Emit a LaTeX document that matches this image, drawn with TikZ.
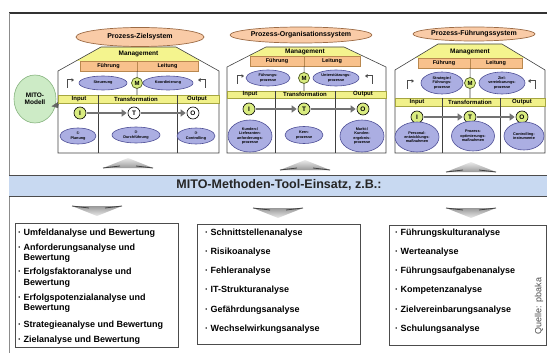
\documentclass[tikz,border=0pt]{standalone}
\usepackage{fontspec}
\setmainfont{Liberation Sans}
\newfontfamily\numfont{DejaVu Sans}
\usetikzlibrary{arrows.meta,positioning,shapes.geometric}

\definecolor{titlefill}{HTML}{F9CBA7}
\definecolor{titleline}{HTML}{9C6B45}
\definecolor{mgmtfill}{HTML}{F4F48E}
\definecolor{leadfill}{HTML}{F8C18C}
\definecolor{leadline}{HTML}{B9884F}
\definecolor{procfill}{HTML}{ABAEE2}
\definecolor{procline}{HTML}{4E4F96}
\definecolor{mfill}{HTML}{D9EC80}
\definecolor{mline}{HTML}{4E5A1E}
\definecolor{bandfill}{HTML}{F1F18A}
\definecolor{bandline}{HTML}{A6A640}
\definecolor{modellfill}{HTML}{CDEBC6}
\definecolor{modellline}{HTML}{86B37E}
\definecolor{bannerfill}{HTML}{C8D9F1}

\tikzset{
  titleell/.style={ellipse, draw=titleline, fill=titlefill, line width=0.7pt, inner sep=0pt,
    font=\fontsize{7}{8}\selectfont\bfseries},
  mgmt/.style={inner sep=0pt, font=\fontsize{6.5}{7}\selectfont\bfseries},
  leadbar/.style={rectangle, draw=leadline, fill=leadfill, minimum height=10, inner sep=0pt,
    font=\fontsize{5.5}{6}\selectfont\bfseries},
  procell/.style={ellipse, draw=procline, fill=procfill, line width=0.6pt, inner sep=0pt, align=center,
    font=\fontsize{3.8}{4.3}\selectfont\bfseries},
  mcirc/.style={circle, draw=mline, fill=mfill, line width=0.7pt, minimum size=11, inner sep=0pt,
    font=\fontsize{6}{6}\selectfont\bfseries},
  iocirc/.style={circle, draw=black, fill=white, line width=0.6pt, minimum size=12, inner sep=0pt,
    font=\fontsize{6.5}{6.5}\selectfont\bfseries},
  band/.style={rectangle, draw=bandline, fill=bandfill, inner sep=0pt, minimum height=8},
  bandlbl/.style={inner sep=0pt, font=\fontsize{6}{6}\selectfont\bfseries},
  wall/.style={draw=black!75, line width=0.6pt},
  flowarr/.style={draw=black!55, line width=2.5pt, -{Triangle[length=5pt,width=7pt]}, shorten <=1pt, shorten >=1pt},
  hookarr/.style={draw=black!70, line width=1pt, -{Triangle[length=2.5pt,width=3.5pt]}},
  modell/.style={ellipse, draw=modellline, fill=modellfill, line width=0.6pt, inner sep=0pt, align=center,
    minimum width=42, minimum height=48, font=\fontsize{6.5}{7.5}\selectfont\bfseries},
  listbox/.style={rectangle, draw=black!70, line width=0.6pt, inner sep=0pt},
  listitem/.style={anchor=west, inner sep=0pt, align=left, font=\fontsize{9}{10.5}\selectfont\bfseries}
}

\begin{document}
\begin{tikzpicture}[x=1pt,y=-1pt]
\useasboundingbox (0,0) rectangle (547,353);

% frame
\draw[black!80, line width=1.2pt] (9,13) -- (547,13);
\draw[black!45, line width=0.8pt] (9,13) -- (9,353);

% MITO model
\node[modell] (mito) at (35,99) {MITO-\\Modell};
\coordinate (mitoin) at (58,108);
\draw[black!60, line width=0.5pt, -{Triangle[length=5pt,width=9pt]}] (mito.-15) -- (mitoin);

% house 1: Prozess-Zielsystem
\fill[mgmtfill] (101,47) -- (176,47) -- (201,61) -- (76,61) -- cycle;
\draw[wall] (58,153) -- (58,71) -- (101,47) -- (176,47) -- (219,71) -- (219,153) -- cycle;
\node[titleell, minimum width=128, minimum height=19] (ziel) at (140,37) {Prozess-Zielsystem};
\node[mgmt] (mg1) at (138.5,54) {Management};
\node[leadbar, minimum width=57] (fue1) at (108.5,66) {Führung};
\node[leadbar, minimum width=61] (lei1) at (167.5,66) {Leitung};
\node[procell, minimum width=48, minimum height=14] (ste1) at (103,83) {Steuerung};
\node[mcirc] (m1) at (137,83) {M};
\node[procell, minimum width=50, minimum height=14] (koo1) at (168,83) {Koordinierung};
\node[band, minimum width=161] (band1) at (138.5,99) {};
\draw[wall] (fue1.south east) -- (m1) -- (m1 |- band1.north);
\draw[wall] (98,95) -- (98,153) (177,95) -- (177,153);
\node[bandlbl] (in1) at (79,99) {Input};
\node[bandlbl] (tr1) at (136,99) {Transformation};
\node[bandlbl] (out1) at (197,99) {Output};
\coordinate (hk1a) at (67,88); \coordinate (hk1b) at (74,80);
\coordinate (hk1c) at (205,88); \coordinate (hk1d) at (198,80);
\draw[hookarr] (hk1a) |- (hk1b);
\draw[hookarr] (hk1c) |- (hk1d);
\node[iocirc, fill=mfill] (i1) at (80,113) {I};
\node[iocirc] (t1) at (134,113) {T};
\node[iocirc] (o1) at (193,113) {O};
\draw[flowarr] (i1) -- (t1);
\draw[flowarr] (t1) -- (o1);
\node[procell, minimum width=36, minimum height=16] (pl1) at (78,136) {{\numfont ①}\\Planung};
\node[procell, minimum width=48, minimum height=16] (df1) at (136,135) {{\numfont ②}\\Durchführung};
\node[procell, minimum width=38, minimum height=16] (co1) at (196,136) {{\numfont ③}\\Controlling};

% house 2: Prozess-Organisationssystem
\fill[mgmtfill] (266,47) -- (344,47) -- (362,56) -- (248,56) -- cycle;
\draw[wall] (227,153) -- (227,67) -- (266,47) -- (344,47) -- (386,67) -- (386,153) -- cycle;
\node[titleell, minimum width=128, minimum height=16] (orga) at (301,35) {Prozess-Organisationssystem};
\node[mgmt] (mg2) at (305,51.5) {Management};
\node[leadbar, minimum width=54] (fue2) at (277,61) {Führung};
\node[leadbar, minimum width=56] (lei2) at (332,61) {Leitung};
\node[procell, minimum width=44, minimum height=16] (fp2) at (268,78) {Führungs-\\prozesse};
\node[mcirc] (m2) at (304,78) {M};
\node[procell, minimum width=46, minimum height=16] (up2) at (336,78) {Unterstützungs-\\prozesse};
\node[band, minimum width=159, minimum height=7] (band2) at (306.5,94.5) {};
\draw[wall] (fue2.south east) -- (m2) -- (m2 |- band2.north);
\draw[wall] (275,91) -- (275,153) (335,91) -- (335,153);
\node[bandlbl] (in2) at (250,94.5) {Input};
\node[bandlbl] (tr2) at (305,94.5) {Transformation};
\node[bandlbl] (out2) at (363,94.5) {Output};
\coordinate (hk2a) at (237,84); \coordinate (hk2b) at (244,76);
\coordinate (hk2c) at (372,84); \coordinate (hk2d) at (365,76);
\draw[hookarr] (hk2a) |- (hk2b);
\draw[hookarr] (hk2c) |- (hk2d);
\node[iocirc, fill=mfill] (i2) at (249,109) {I};
\node[iocirc, fill=mfill] (t2) at (304,109) {T};
\node[iocirc, fill=mfill] (o2) at (363,109) {O};
\draw[flowarr] (i2) -- (t2);
\draw[flowarr] (t2) -- (o2);
\node[procell, minimum width=44, minimum height=32] (ka2) at (250,136) {Kunden-/\\Lieferanten-\\anforderungs-\\prozesse};
\node[procell, minimum width=38, minimum height=17] (kp2) at (304,135) {Kern-\\prozesse};
\node[procell, minimum width=44, minimum height=32] (me2) at (362,136) {Markt-/\\Kunden-\\ergebnis-\\prozesse};

% house 3: Prozess-Fuehrungssystem
\fill[mgmtfill] (438,44) -- (502,44) -- (525,58) -- (415,58) -- cycle;
\draw[wall] (395,153) -- (395,70) -- (438,44) -- (502,44) -- (545,70) -- (545,153) -- cycle;
\node[titleell, minimum width=122, minimum height=14] (fuehr) at (474,34) {Prozess-Führungssystem};
\node[mgmt] (mg3) at (470,51.5) {Management};
\node[leadbar, minimum width=52] (fue3) at (444,63) {Führung};
\node[leadbar, minimum width=52] (lei3) at (496,63) {Leitung};
\node[procell, minimum width=42, minimum height=22] (sp3) at (442,83) {Strategie-/\\Führungs-\\prozesse};
\node[mcirc] (m3) at (470,83) {M};
\node[procell, minimum width=46, minimum height=22] (zp3) at (502,83) {Ziel-\\vereinbarungs-\\prozesse};
\node[band, minimum width=150] (band3) at (470,102) {};
\draw[wall] (fue3.south east) -- (m3) -- (m3 |- band3.north);
\draw[wall] (442,98) -- (442,153) (500,98) -- (500,153);
\node[bandlbl] (in3) at (417,102) {Input};
\node[bandlbl] (tr3) at (470,102) {Transformation};
\node[bandlbl] (out3) at (522,102) {Output};
\coordinate (hk3a) at (407,89); \coordinate (hk3b) at (414,81);
\coordinate (hk3c) at (535,89); \coordinate (hk3d) at (528,81);
\draw[hookarr] (hk3a) |- (hk3b);
\draw[hookarr] (hk3c) |- (hk3d);
\node[iocirc, fill=mfill] (i3) at (417,117) {I};
\node[iocirc, fill=mfill] (t3) at (470,117) {T};
\node[iocirc, fill=mfill] (o3) at (522,117) {O};
\draw[flowarr] (i3) -- (t3);
\draw[flowarr] (t3) -- (o3);
\node[procell, minimum width=44, minimum height=30] (pe3) at (417,137) {Personal-\\entwicklungs-\\maßnahmen};
\node[procell, minimum width=43, minimum height=30] (po3) at (473,136) {Prozess-\\optimierungs-\\maßnahmen};
\node[procell, minimum width=40, minimum height=28] (ci3) at (524,136) {Controlling-\\instrumente};

% arrows to and from the tool band
\foreach \cx/\cy in {128/158, 305/160, 471/162} {
  \shade[top color=black!8, bottom color=black!40] (\cx-25,\cy+10) -- (\cx,\cy) -- (\cx+25,\cy+10) -- cycle;
  \draw[black!75, line width=0.8pt] (\cx-25,\cy+10) -- (\cx-8,\cy+8) (\cx+25,\cy+10) -- (\cx+8,\cy+8);
}
\foreach \cx/\cy in {97/206, 278/208, 471/208} {
  \shade[top color=black!40, bottom color=black!8] (\cx-25,\cy) -- (\cx,\cy+10) -- (\cx+25,\cy) -- cycle;
  \draw[black!75, line width=0.8pt] (\cx-25,\cy) -- (\cx-8,\cy+2) (\cx+25,\cy) -- (\cx+8,\cy+2);
}

% tool band
\fill[bannerfill] (9,175) rectangle (547,196);
\draw[black!70, line width=0.8pt] (9,175) -- (547,175) (9,196) -- (547,196);
\node[inner sep=0pt, font=\fontsize{12.5}{13}\selectfont\bfseries, text=black!85] (tools) at (279,185) {MITO-Methoden-Tool-Einsatz, z.B.:};

% tool lists
\node[listbox, minimum width=163, minimum height=124] (box1) at (96.5,285) {};
\node[listitem] (ua1) at (18,233) {· Umfeldanalyse und Bewertung};
\node[listitem] (ua2) at (18,253) {· Anforderungsanalyse und\\\hphantom{· }Bewertung};
\node[listitem] (ua3) at (18,277.5) {· Erfolgsfaktoranalyse und\\\hphantom{· }Bewertung};
\node[listitem] (ua4) at (18,303) {· Erfolgspotenzialanalyse und\\\hphantom{· }Bewertung};
\node[listitem] (ua5) at (18,325) {· Strategieanalyse und Bewertung};
\node[listitem] (ua6) at (18,340) {· Zielanalyse und Bewertung};

\node[listbox, minimum width=163, minimum height=120] (box2) at (278.5,284) {};
\foreach \t [count=\k, evaluate=\k as \yy using 233+19.2*(\k-1)] in
  {Schnittstellenanalyse, Risikoanalyse, Fehleranalyse, IT-Strukturanalyse,
   Gefährdungsanalyse, Wechselwirkungsanalyse}
  \node[listitem] (sa\k) at (205,\yy) {· \t};

\node[listbox, minimum width=157, minimum height=120] (box3) at (467.5,285) {};
\foreach \t [count=\k, evaluate=\k as \yy using 233+19.2*(\k-1)] in
  {Führungskulturanalyse, Werteanalyse, Führungsaufgabenanalyse, Kompetenzanalyse,
   Zielvereinbarungsanalyse, Schulungsanalyse}
  \node[listitem] (fa\k) at (395,\yy) {· \t};

\node[rotate=90, inner sep=0pt, font=\fontsize{9}{9}\selectfont, text=black!70] (quelle) at (539,306) {Quelle: pbaka};
\end{tikzpicture}
\end{document}
